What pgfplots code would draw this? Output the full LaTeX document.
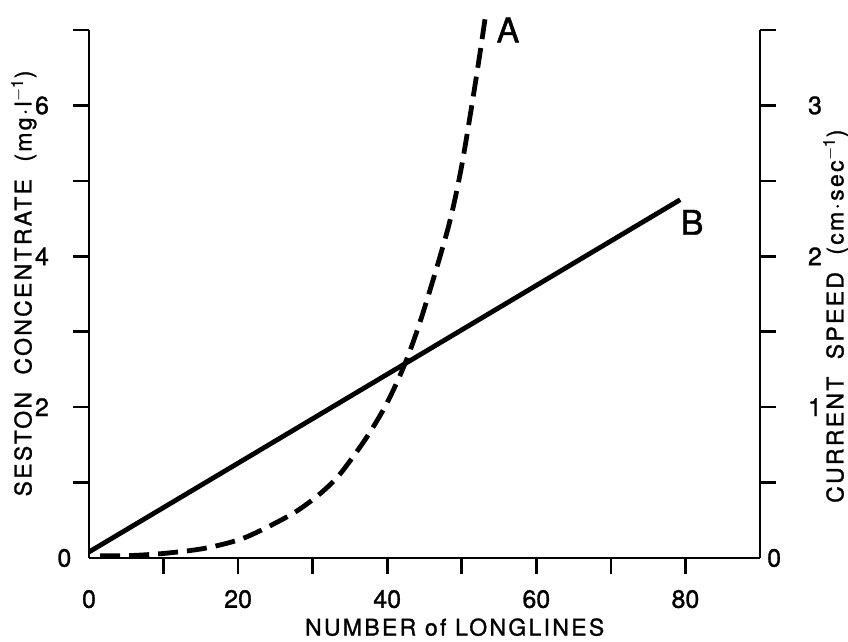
\documentclass[border=0pt]{standalone}
\usepackage{fontspec}
\setmainfont[FakeBold=1.2]{TeX Gyre Heros}
\newfontfamily\labfont[LetterSpace=10,FakeBold=1.2]{TeX Gyre Heros}
\usepackage{pgfplots}
\pgfplotsset{compat=1.18}
\begin{document}
\begin{tikzpicture}
\pgfplotsset{every axis/.append style={
  scale only axis, width=335.5pt, height=264pt, xmin=0, xmax=90,
  axis line style={line width=1.3pt,-}, tick style={line width=1.3pt,black},
  tick align=outside, major tick length=8pt,
  /pgf/number format/assume math mode=true,
  tick label style={font=\fontsize{12.5}{14}\selectfont},
  label style={font=\labfont\fontsize{11.5}{13}\selectfont},
}}
\begin{axis}[axis x line*=bottom, axis y line*=left, ymin=0, ymax=7,
  xtick={10,20,...,80}, xticklabels={,20,,40,,60,,80},
  extra x ticks={0}, extra x tick labels={0}, extra x tick style={major tick style={draw=none}},
  ytick={1,...,7}, yticklabels={,2,,4,,6,},
  xticklabel style={yshift=-4.5pt},
  yticklabel style={xshift=-8.5pt},
  xlabel={NUMBER of LONGLINES},
  ylabel={SESTON\ \ CONCENTRATE\ \ (mg·l\textsuperscript{$-$1})},
  xlabel style={at={(axis description cs:0.545,-0.131)}, anchor=center},
  ylabel style={at={(axis description cs:-0.097,0.52)}, anchor=center},
  clip=false]
\addplot[black, line width=2.4pt] coordinates {(0,0.08) (79.3,4.75)};
\addplot[black, line width=2.4pt, dash pattern=on 10pt off 4.5pt, smooth] coordinates {
(1.5,0.03) (5,0.03) (10,0.06) (15.6,0.13) (20.9,0.27) (27,0.57) (30.6,0.82) (33.3,1.07)
(35.7,1.38) (37.7,1.67) (40,2.06) (42.4,2.58) (44.7,3.22) (48.1,4.35) (49.8,5.1)
(51.1,5.85) (52.3,6.6) (53.2,7.2)};
\node[font=\fontsize{17}{19}\selectfont] at (axis cs:56.2,7.0) {A};
\node[font=\fontsize{17}{19}\selectfont] at (axis cs:80.9,4.45) {B};
\node[font=\fontsize{12.5}{14}\selectfont] at (axis cs:-3.3,0) {0};
\end{axis}
\begin{axis}[axis y line*=right, axis x line=none, ymin=0, ymax=3.5,
  ytick={0.5,1,...,3.5}, yticklabels={,1,,2,,3,},
  yticklabel style={xshift=12.5pt},
  ylabel={CURRENT\ \ SPEED\ \ (cm·sec\textsuperscript{$-$1})},
  ylabel style={at={(axis description cs:1.113,0.458)}, anchor=center},
  clip=false]
\node[font=\fontsize{12.5}{14}\selectfont] at (axis cs:91.9,0) {0};
\end{axis}
\pgfresetboundingbox
\path (-44.5pt,-42pt) rectangle (379.5pt,279pt);
\end{tikzpicture}
\end{document}
